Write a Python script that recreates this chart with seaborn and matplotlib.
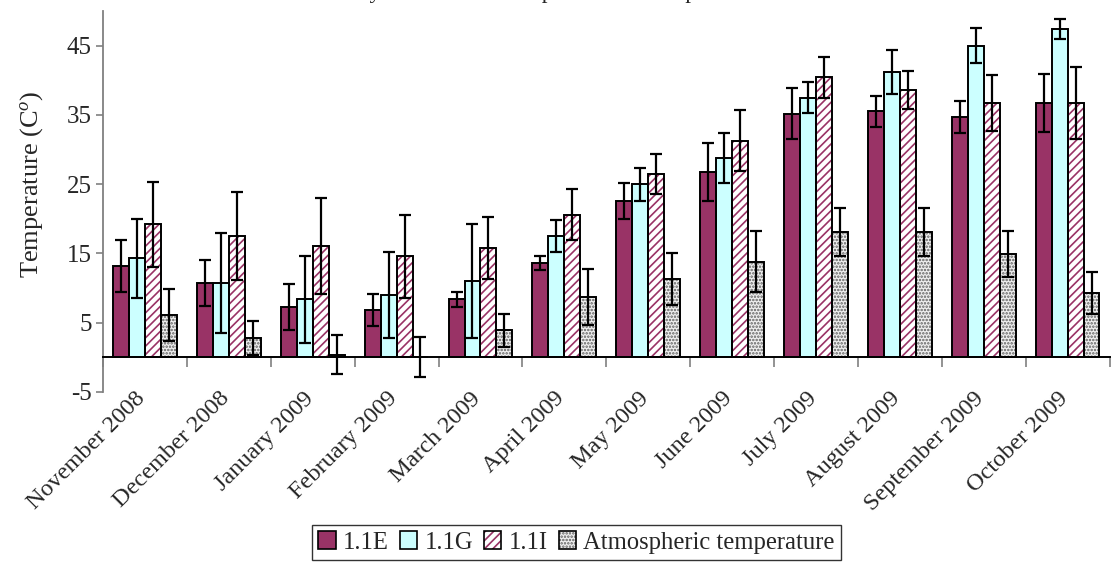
import numpy as np
import pandas as pd
import seaborn as sns
import matplotlib
matplotlib.use("Agg")
import matplotlib.pyplot as plt
from matplotlib.patches import Patch, Rectangle
from matplotlib.transforms import ScaledTranslation

# ---- data -------------------------------------------------------------
months = ["November 2008", "December 2008", "January 2009", "February 2009",
          "March 2009", "April 2009", "May 2009", "June 2009", "July 2009",
          "August 2009", "September 2009", "October 2009"]
series = ["1.1E", "1.1G", "1.1I", "Atmospheric temperature"]

temp_e = [13.2, 10.7, 7.3, 6.8, 8.4, 13.6, 22.5, 26.8, 35.2, 35.5, 34.7, 36.7]
temp_g = [14.3, 10.7, 8.4, 9.0, 11.0, 17.5, 25.0, 28.8, 37.5, 41.2, 45.0, 47.4]
temp_i = [19.2, 17.5, 16.1, 14.6, 15.8, 20.6, 26.5, 31.3, 40.4, 38.6, 36.7, 36.7]
temp_atm = [6.1, 2.8, 0.4, 0.1, 3.9, 8.7, 11.3, 13.8, 18.1, 18.1, 14.9, 9.3]

sd_e = [3.8, 3.3, 3.3, 2.3, 1.1, 1.0, 2.6, 4.2, 3.7, 2.2, 2.3, 4.2]
sd_g = [5.7, 7.2, 6.3, 6.2, 8.2, 2.3, 2.4, 3.6, 2.2, 3.2, 2.5, 1.5]
sd_i = [6.1, 6.3, 6.9, 6.0, 4.5, 3.7, 2.9, 4.4, 3.0, 2.7, 4.0, 5.2]
sd_atm = [3.8, 2.5, 2.8, 2.9, 2.4, 4.0, 3.8, 4.4, 3.4, 3.4, 3.3, 3.0]

title = "Monthly variations of temperature in compost"
y_ticks = [-5, 5, 15, 25, 35, 45]

# ---- styling ------------------------------------------------------------
sns.set_theme(style="white")
plt.rcParams["font.family"] = ["Liberation Serif", "DejaVu Serif"]
plt.rcParams["mathtext.fontset"] = "custom"
plt.rcParams["mathtext.rm"] = "Liberation Serif"
plt.rcParams["mathtext.it"] = "Liberation Serif:italic"
plt.rcParams["hatch.linewidth"] = 1.2

PLUM = "#993366"
CYAN = "#CCFFFF"
GREY_AXIS = "#808080"

styles = {
    "1.1E": dict(face=PLUM, hatch=None, hcol=PLUM),
    "1.1G": dict(face=CYAN, hatch=None, hcol=CYAN),
    "1.1I": dict(face="white", hatch="////", hcol=PLUM),
    "Atmospheric temperature": dict(face="#efefef", hatch=".....", hcol="#606060"),
}

df = pd.DataFrame({
    "month": months * 4,
    "series": np.repeat(series, len(months)),
    "value": temp_e + temp_g + temp_i + temp_atm,
})
errors = [sd_e, sd_g, sd_i, sd_atm]

fig = plt.figure(figsize=(11.11, 5.64), dpi=100)
ax = fig.add_axes([0.0927, 0.305, 0.906, 0.6755])

sns.barplot(data=df, x="month", y="value", hue="series", order=months,
            hue_order=series, width=0.76, gap=0, errorbar=None,
            legend=False, ax=ax)

for name, cont, err in zip(series, ax.containers, errors):
    st = styles[name]
    xs, ys = [], []
    for p in cont:
        p.set_facecolor(st["face"])
        p.set_edgecolor(st["hcol"])
        p.set_linewidth(0)
        if st["hatch"]:
            p.set_hatch(st["hatch"])
        outline = Rectangle((p.get_x(), p.get_y()), p.get_width(), p.get_height(),
                            fill=False, edgecolor="black", linewidth=1.4, zorder=3)
        ax.add_patch(outline)
        xs.append(p.get_x() + p.get_width() / 2)
        ys.append(p.get_y() + p.get_height())
    ax.errorbar(xs, ys, yerr=err, fmt="none", ecolor="black", elinewidth=1.6,
                capsize=4, capthick=1.6, zorder=4)

# ---- axes ---------------------------------------------------------------
ax.set_xlim(-0.5, len(months) - 0.5)
ax.set_ylim(-5, 50)
ax.set_yticks(y_ticks)
ax.set_yticklabels([str(t) for t in y_ticks], fontsize=18)
ax.tick_params(axis="y", direction="out", length=5, width=1.2, color=GREY_AXIS,
               pad=3, left=True)

for side in ["top", "right"]:
    ax.spines[side].set_visible(False)
ax.spines["left"].set_color(GREY_AXIS)
ax.spines["left"].set_linewidth(1.3)
ax.spines["bottom"].set_position(("data", 0))
ax.spines["bottom"].set_color("black")
ax.spines["bottom"].set_linewidth(1.4)

ax.set_xticks(range(len(months)))
ax.set_xticklabels(months, fontsize=17.5, rotation=45, ha="right",
                   rotation_mode="anchor")
ax.tick_params(axis="x", which="major", length=0, pad=22)
shift = ScaledTranslation(-10 / 100, 0, fig.dpi_scale_trans)
for lab in ax.get_xticklabels():
    lab.set_transform(lab.get_transform() + shift)
ax.set_xticks(np.arange(-0.5, len(months), 1.0), minor=True)
ax.tick_params(axis="x", which="minor", direction="out", length=7, width=1.2,
               color=GREY_AXIS, bottom=True)
ax.set_xlabel("")
ax.set_ylabel("Temperature (C$^{o}$)", fontsize=19)
ax.yaxis.set_label_coords(-0.058, 0.545)
ax.grid(False)

# ---- legend -------------------------------------------------------------
handles = []
for name in series:
    st = styles[name]
    fill = Patch(facecolor=st["face"], edgecolor=st["hcol"], linewidth=0,
                 hatch=st["hatch"])
    edge = Patch(facecolor="none", edgecolor="black", linewidth=1.2)
    handles.append((fill, edge))
leg = fig.legend(handles, series, loc="center", bbox_to_anchor=(0.519, 0.038),
                 ncol=4, fontsize=17.7, frameon=True, fancybox=False,
                 handlelength=0.7, handleheight=0.7, handletextpad=0.3,
                 columnspacing=0.45, borderpad=0.25, borderaxespad=0)
leg.get_frame().set_edgecolor("black")
leg.get_frame().set_linewidth(1.0)

# title sits above the top edge, only its descenders reach into the figure
fig.text(0.272, 1 + 2 / 564, title, ha="left", va="baseline", fontsize=16.5)

fig.savefig("out.png", dpi=100)
